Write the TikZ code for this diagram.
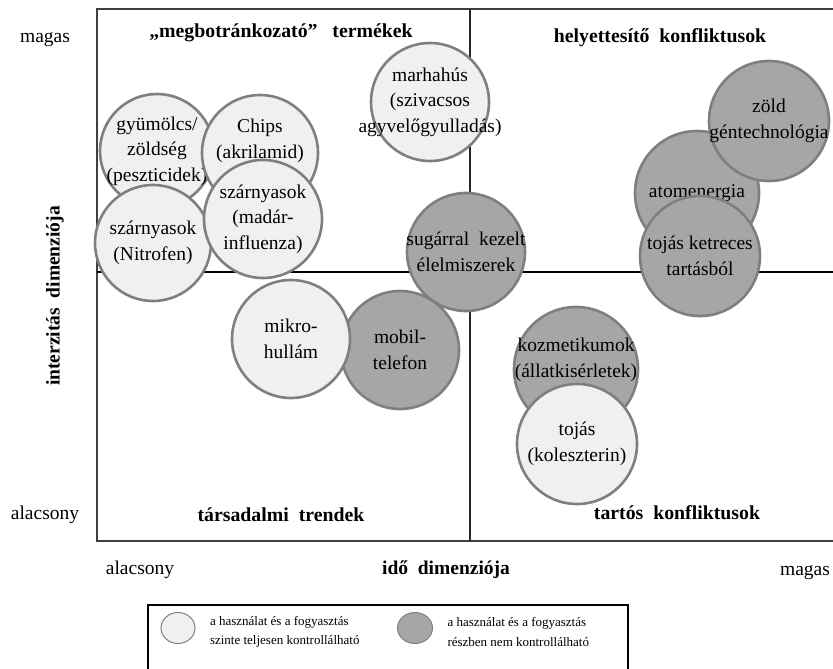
\documentclass[tikz,border=0pt]{standalone}
\usepackage{fontspec}
\setmainfont{Liberation Serif}
\usepackage{tikz}
\usetikzlibrary{shapes,positioning}

\definecolor{lightfill}{HTML}{F0F0F0}
\definecolor{darkfill}{HTML}{A6A6A6}
\definecolor{rim}{HTML}{7F7F7F}

\tikzset{
  itemfont/.style={font=\fontsize{19.5}{25.5}\selectfont},
  item/.style={circle, draw=rim, line width=2.6pt, inner sep=-25pt, align=center,
    minimum size=#1, itemfont},
  item/.default=118pt,
  lightitem/.style={item=#1, fill=lightfill},
  lightitem/.default=118pt,
  darkitem/.style={item=#1, fill=darkfill},
  darkitem/.default=118pt,
  quadtitle/.style={font=\fontsize{19.8}{22}\selectfont\bfseries},
  axislabel/.style={font=\fontsize{19.5}{22}\selectfont},
  keytext/.style={align=left, font=\fontsize{13}{19.5}\selectfont}
}

\begin{document}
\begin{tikzpicture}[x=1pt, y=-1pt]
            \useasboundingbox (0,0) rectangle (833,669);
            % frame and the two dimensions
            \coordinate (topleft) at (97,9);
            \coordinate (botright) at (838,541);
            \coordinate (midleft) at (97,272);
            \coordinate (midright) at (838,272);
            \coordinate (midtop) at (470,9);
            \coordinate (midbot) at (470,541);
            \draw[line width=1.5pt, draw=black!75] (topleft) rectangle (botright);
            \draw[line width=2.2pt] (midleft) -- (midright);
            \draw[line width=1.5pt, draw=black!85] (midtop) -- (midbot);

            \node[axislabel] (yhigh) at (45,40) {magas};
            \node[axislabel] (ylow) at (45,515) {alacsony};
            \node[rotate=90, font=\fontsize{19.5}{22}\selectfont\bfseries] (yaxis) at (55,296) {interzitás\ \ dimenziója};
            \node[axislabel] (xlow) at (140,570) {alacsony};
            \node[font=\fontsize{19.5}{22}\selectfont\bfseries] (xaxis) at (446,570) {idő\ \ dimenziója};
            \node[axislabel] (xhigh) at (805,573) {magas};

            \node[quadtitle] (shock) at (281,33) {„megbotránkozató”\ \ \ termékek};
            \node[quadtitle] (subst) at (660,38) {helyettesítő\ \ konfliktusok};
            \node[quadtitle] (trends) at (281,515) {társadalmi\ \ trendek};
            \node[quadtitle] (lasting) at (677,513) {tartós\ \ konfliktusok};

            % items, back to front
            \node[lightitem=114pt] (fruit) at (157,151) {gyümölcs/\\zöldség\\(peszticidek)};
            \node[lightitem=116pt, label={[itemfont, align=center, yshift=12pt]center:{Chips\\(akrilamid)}}] (chips) at (260,153) {};
            \node[lightitem=116pt] (nitrofen) at (153,243) {szárnyasok\\(Nitrofen)};
            \node[lightitem=118pt] (birdflu) at (263,219) {szárnyasok\\(madár-\\influenza)};
            \node[lightitem=118pt] (beef) at (430,102) {marhahús\\(szivacsos\\agyvelőgyulladás)};
            \node[darkitem=118pt] (irradiated) at (466,252) {sugárral\ \ kezelt\\élelmiszerek};
            \node[darkitem=118pt] (mobile) at (400,350) {mobil-\\telefon};
            \node[lightitem=118pt] (microwave) at (291,339) {mikro-\\hullám};
            \node[darkitem=124pt] (nuclear) at (697,193) {atomenergia};
            \node[darkitem=120pt] (gmo) at (769,121) {zöld\\géntechnológia};
            \node[darkitem=120pt] (cagedeggs) at (700,256) {tojás ketreces\\tartásból};
            \node[darkitem=124pt, label={[itemfont, align=center, yshift=9pt]center:{kozmetikumok\\(állatkisérletek)}}] (cosmetics) at (576,369) {};
            \node[lightitem=120pt] (eggs) at (577,444) {tojás\\(koleszterin)};

            % key
            \draw[line width=1.2pt] (148,605) rectangle (628,690);
            \node[ellipse, draw=rim, fill=lightfill, line width=1pt, minimum width=34pt, minimum height=31pt] (keylight) at (178,628) {};
            \node[keytext, right=11pt of keylight, yshift=-4pt] (keylighttext) {a használat és a fogyasztás\\szinte teljesen kontrollálható};
            \node[ellipse, draw=rim, fill=darkfill, line width=1pt, minimum width=35pt, minimum height=31pt] (keydark) at (415,628) {};
            \node[keytext, right=11pt of keydark, yshift=-4pt] (keydarktext) {a használat és a fogyasztás\\részben nem kontrollálható};
        \end{tikzpicture}
\end{document}
